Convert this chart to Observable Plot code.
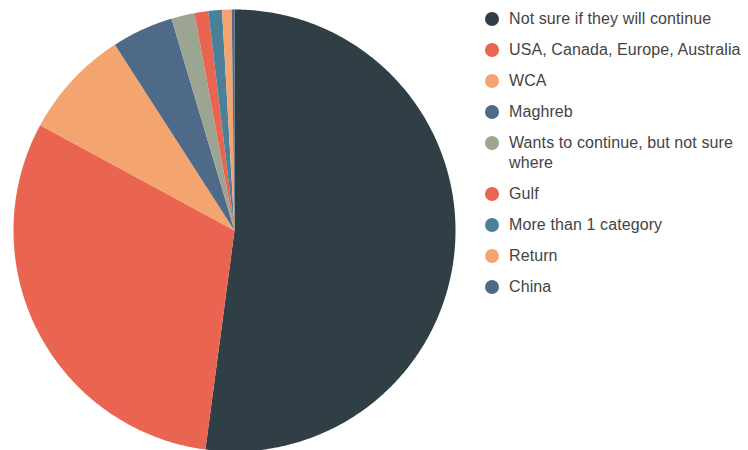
<!DOCTYPE html>
<html>
<head>
<meta charset="utf-8">
<script src="https://cdn.jsdelivr.net/npm/d3@7"></script>
<script src="https://cdn.jsdelivr.net/npm/@observablehq/plot@0.6"></script>
<style>
  body { margin: 0; background: #fff; }
  #wrap { position: relative; width: 748px; height: 450px; overflow: hidden; }
  #legend { position: absolute; left: 484px; top: 9px; width: 264px; font-family: 'Liberation Sans', Arial, sans-serif; font-size: 16px; letter-spacing: 0.1px; color: #444; }
  .item { display: flex; align-items: flex-start; margin-bottom: 11px; line-height: 20px; }
  .sw { width: 14px; height: 14px; border-radius: 50%; margin: 3px 10px 0 1px; flex: none; }
</style>
</head>
<body>
<div id="wrap"><div id="legend"></div></div>
<script>
const categories = [
  "Not sure if they will continue",
  "USA, Canada, Europe, Australia",
  "WCA",
  "Maghreb",
  "Wants to continue, but not sure where",
  "Gulf",
  "More than 1 category",
  "Return",
  "China"
];
const values = [52.1, 30.8, 8.0, 4.5, 1.7, 1.0, 1.0, 0.7, 0.2];
const colors = ["#303f45", "#ea6452", "#f4a46e", "#4e6a88", "#9ca592", "#ea6452", "#4a8199", "#f4a46e", "#4e6a88"];

const data = categories.map((c, i) => ({category: c, value: values[i]}));
const arcs = d3.pie().sort(null).value(d => d.value)(data);

const pts = [];
arcs.forEach(a => {
  const name = a.data.category;
  pts.push({category: name, x: 0, y: 0});
  const n = Math.max(2, Math.ceil((a.endAngle - a.startAngle) / (Math.PI / 360)));
  for (let k = 0; k <= n; k++) {
    const t = a.startAngle + (a.endAngle - a.startAngle) * k / n;
    pts.push({category: name, x: Math.sin(t), y: Math.cos(t)});
  }
});

const chart = Plot.plot({
  width: 748,
  height: 450,
  margin: 0,
  x: {domain: [-1, 1], range: [13, 455], axis: null},
  y: {domain: [-1, 1], range: [451, 9], axis: null},
  color: {domain: categories, range: colors},
  marks: [
    Plot.line(pts, {x: "x", y: "y", z: "category", fill: "category", stroke: "none", curve: "linear-closed"})
  ]
});
chart.style.position = "absolute";
chart.style.left = "0";
chart.style.top = "0";
document.getElementById("wrap").prepend(chart);

const legend = document.getElementById("legend");
categories.forEach((c, i) => {
  const it = document.createElement("div");
  it.className = "item";
  const sw = document.createElement("span");
  sw.className = "sw";
  sw.style.background = colors[i];
  const tx = document.createElement("span");
  tx.textContent = c;
  it.appendChild(sw);
  it.appendChild(tx);
  legend.appendChild(it);
});
</script>
</body>
</html>
